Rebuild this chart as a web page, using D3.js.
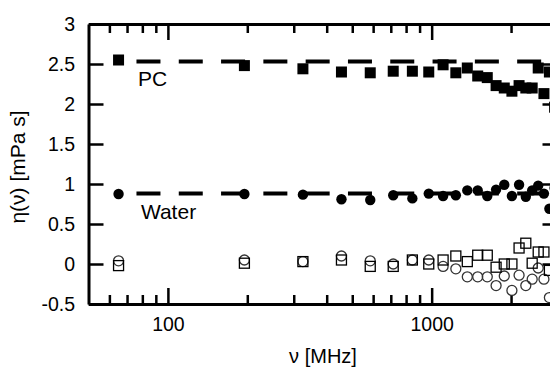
<!DOCTYPE html>
<html>
<head>
<meta charset="utf-8">
<script src="https://cdn.jsdelivr.net/npm/d3@7"></script>
<style>
  body { margin: 0; background: #fff; overflow: hidden; }
  svg { display: block; font-family: "Liberation Sans", Arial, sans-serif; }
  .axis path, .axis line { stroke: #000; }
  .axis text { font-size: 19.5px; fill: #000; }
</style>
</head>
<body>
<div id="chart"></div>
<script>
"use strict";

// frequencies (MHz), odd harmonics of 65 MHz
var freqs = [65, 195, 325, 455, 585, 715, 845, 975, 1105, 1235, 1365, 1495, 1625,
             1755, 1885, 2015, 2145, 2275, 2405, 2535, 2665, 2795, 2925];

// eta(nu) in mPa s
var pcValues = [2.55, 2.48, 2.44, 2.40, 2.39, 2.41, 2.41, 2.40, 2.49, 2.39, 2.45, 2.35, 2.33,
                2.23, 2.20, 2.16, 2.23, 2.20, 2.20, 2.45, 2.13, 2.40, 1.96];
var waterValues = [0.875, 0.875, 0.867, 0.81, 0.80, 0.86, 0.82, 0.88, 0.85, 0.86, 0.92, 0.92, 0.85,
                   0.93, 0.99, 0.85, 0.99, 0.84, 0.92, 0.98, 0.88, 0.69, 0.95];
var openSquareValues = [-0.02, 0.01, 0.03, 0.05, -0.03, -0.03, 0.05, 0.0, 0.05, 0.10, 0.03, 0.11,
                        0.11, -0.04, 0.0, 0.0, 0.20, 0.26, 0.01, 0.15, 0.15, -0.08];
var openCircleValues = [0.04, 0.05, 0.03, 0.10, 0.04, 0.0, 0.05, 0.05, -0.03, -0.06, -0.16, -0.16,
                        -0.16, -0.27, -0.15, -0.33, -0.14, -0.27, -0.19, -0.05, -0.19, -0.42];

// constant fits
var pcFit = 2.53;
var waterFit = 0.88;
var fitRange = [76, 3000];

var xMajor = [100, 1000];
var xMinor = [60, 70, 80, 90, 200, 300, 400, 500, 600, 700, 800, 900, 2000];
var yTicks = [-0.5, 0, 0.5, 1, 1.5, 2, 2.5, 3];

var width = 550, height = 367;
var plotLeft = 88.5, plotRight = 557.5, plotTop = 24, plotBottom = 304;

var svg = d3.select("#chart").append("svg")
  .attr("width", width)
  .attr("height", height);

var x = d3.scaleLog().domain([50, 3000]).range([plotLeft, plotRight]);
var y = d3.scaleLinear().domain([-0.5, 3]).range([plotBottom, plotTop]);

function pairs(values) {
  return values.map(function(v, i) { return { f: freqs[i], v: v }; });
}

// axes
function styleAxis(g) {
  g.attr("class", "axis");
  g.select(".domain").attr("stroke-width", 3);
  g.selectAll(".tick line").attr("stroke-width", 2.5);
}

svg.append("g")
  .attr("transform", "translate(0," + plotBottom + ")")
  .call(d3.axisBottom(x).tickValues(xMinor).tickSize(-9).tickSizeOuter(0).tickFormat(""))
  .call(styleAxis);
svg.append("g")
  .attr("transform", "translate(0," + plotBottom + ")")
  .call(d3.axisBottom(x).tickValues(xMajor).tickSize(-16).tickSizeOuter(0).tickPadding(13)
    .tickFormat(function(d){ return String(d); }))
  .call(styleAxis);
svg.append("g")
  .attr("transform", "translate(0," + plotTop + ")")
  .call(d3.axisTop(x).tickValues(xMinor).tickSize(-9).tickSizeOuter(0).tickFormat(""))
  .call(styleAxis);
svg.append("g")
  .attr("transform", "translate(0," + plotTop + ")")
  .call(d3.axisTop(x).tickValues(xMajor).tickSize(-16).tickSizeOuter(0).tickFormat(""))
  .call(styleAxis);
svg.append("g")
  .attr("transform", "translate(" + plotLeft + ",0)")
  .call(d3.axisLeft(y).tickValues(yTicks).tickSize(-15).tickSizeOuter(0).tickPadding(13.5)
    .tickFormat(function(d){ return String(d); }))
  .call(styleAxis);
svg.append("g")
  .attr("transform", "translate(" + plotRight + ",0)")
  .call(d3.axisRight(y).tickValues(yTicks).tickSize(-15).tickSizeOuter(0).tickFormat(""))
  .call(styleAxis);

// axis titles
svg.append("text")
  .attr("x", (plotLeft + plotRight) / 2)
  .attr("y", 362.5)
  .attr("text-anchor", "middle")
  .style("font-size", "20px")
  .text("ν [MHz]");

svg.append("text")
  .attr("transform", "translate(25," + ((plotTop + plotBottom) / 2 + 3) + ") rotate(-90)")
  .attr("text-anchor", "middle")
  .style("font-size", "21px")
  .text("η(ν) [mPa s]");

// fit lines
var fitLine = d3.line()
  .x(function(d){ return x(d.f); })
  .y(function(d){ return y(d.v); });

[pcFit, waterFit].forEach(function(level) {
  svg.append("path")
    .datum(fitRange.map(function(f){ return { f: f, v: level }; }))
    .attr("d", fitLine)
    .attr("fill", "none")
    .attr("stroke", "#000")
    .attr("stroke-width", 4)
    .attr("stroke-dasharray", "24,18.3");
});

// open circles
svg.append("g").selectAll("circle")
  .data(pairs(openCircleValues))
  .enter()
  .append("circle")
  .attr("cx", function(d){ return x(d.f); })
  .attr("cy", function(d){ return y(d.v); })
  .attr("r", 5)
  .attr("fill", "none")
  .attr("stroke", "#333")
  .attr("stroke-width", 1.3);

// open squares
svg.append("g").selectAll("rect")
  .data(pairs(openSquareValues))
  .enter()
  .append("rect")
  .attr("x", function(d){ return x(d.f) - 5; })
  .attr("y", function(d){ return y(d.v) - 5; })
  .attr("width", 10)
  .attr("height", 10)
  .attr("fill", "none")
  .attr("stroke", "#000")
  .attr("stroke-width", 1.3);

// water
svg.append("g").selectAll("circle")
  .data(pairs(waterValues))
  .enter()
  .append("circle")
  .attr("cx", function(d){ return x(d.f); })
  .attr("cy", function(d){ return y(d.v); })
  .attr("r", 5.2)
  .attr("fill", "#000");

// PC
svg.append("g").selectAll("rect")
  .data(pairs(pcValues))
  .enter()
  .append("rect")
  .attr("x", function(d){ return x(d.f) - 5.5; })
  .attr("y", function(d){ return y(d.v) - 5.5; })
  .attr("width", 11)
  .attr("height", 11)
  .attr("fill", "#000");

// series labels
svg.append("text")
  .attr("x", x(77))
  .attr("y", 86)
  .style("font-size", "21px")
  .text("PC");
svg.append("text")
  .attr("x", x(79))
  .attr("y", 219)
  .style("font-size", "21px")
  .text("Water");
</script>
</body>
</html>
